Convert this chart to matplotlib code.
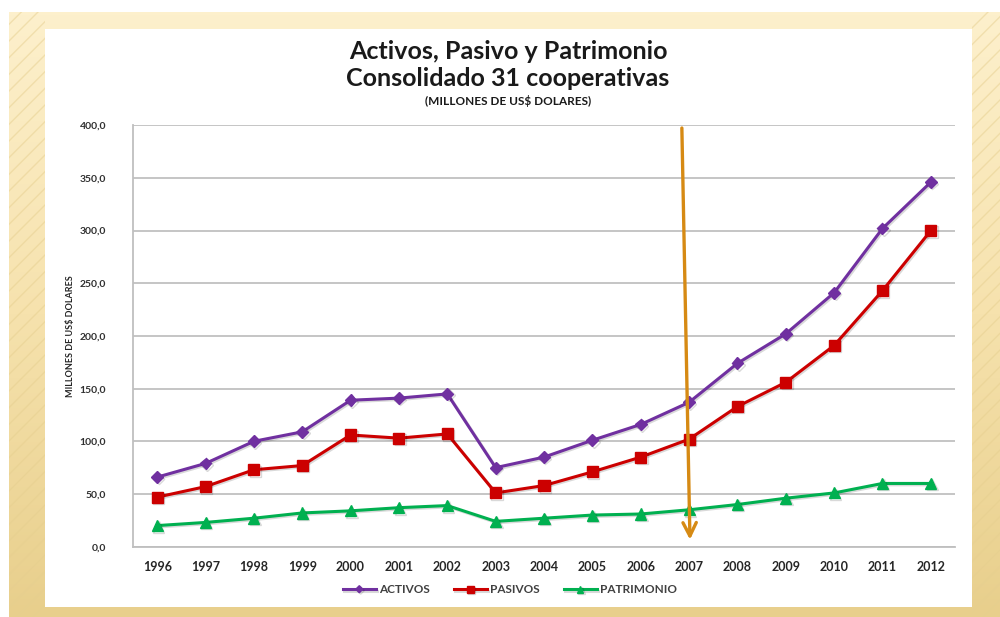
import numpy as np
import matplotlib.pyplot as plt
from matplotlib.patches import Rectangle
from matplotlib.colors import LinearSegmentedColormap
import matplotlib.patheffects as pe

plt.rcParams['font.family'] = ['Lato', 'DejaVu Sans']

# datos
anios = ['1996', '1997', '1998', '1999', '2000', '2001', '2002', '2003', '2004',
         '2005', '2006', '2007', '2008', '2009', '2010', '2011', '2012']
activos = [66, 79, 100, 109, 139, 141, 145, 75, 85, 101, 116, 137, 174, 202, 241, 302, 346]
pasivos = [47, 57, 73, 77, 106, 103, 107, 51, 58, 71, 85, 102, 133, 156, 191, 243, 300]
patrimonio = [20, 23, 27, 32, 34, 37, 39, 24, 27, 30, 31, 35, 40, 46, 51, 60, 60]
yticks = [0, 50, 100, 150, 200, 250, 300, 350, 400]

fig = plt.figure(figsize=(10, 6.17), dpi=100)

# fondo tipo diapositiva
bg = fig.add_axes([0, 0, 1, 1], zorder=-5)
bg.set_xlim(0, 1000)
bg.set_ylim(617, 0)
bg.axis('off')
cmap = LinearSegmentedColormap.from_list('beige', ['#fdf0cc', '#f6e2ad', '#e8cf8c'])
grad = np.linspace(0, 1, 200).reshape(-1, 1)
bg.imshow(grad, cmap=cmap, extent=[9, 1000, 617, 12], aspect='auto', zorder=0)
for x0, w in [(9, 36), (972, 28)]:
    bg.add_patch(Rectangle((x0, 12), w, 605, facecolor='none', edgecolor='#e6cf8f',
                           hatch='//', linewidth=0, alpha=0.5, zorder=1))
bg.add_patch(Rectangle((45, 29), 927, 578, facecolor='white', edgecolor='none', zorder=2))

ax = fig.add_axes([0.133, 0.114, 0.822, 0.683])
x = np.arange(len(anios))
sombra = [pe.SimpleLineShadow(offset=(1, -1), alpha=0.15), pe.Normal()]
ax.plot(x, activos, color='#7030a0', lw=2.2, marker='D', ms=6, label='ACTIVOS',
        path_effects=sombra, zorder=3)
ax.plot(x, pasivos, color='#cc0000', lw=2.2, marker='s', ms=8, label='PASIVOS',
        path_effects=sombra, zorder=3)
ax.plot(x, patrimonio, color='#00b050', lw=2.2, marker='^', ms=8, label='PATRIMONIO',
        path_effects=sombra, zorder=3)

# flecha 2007
ax.annotate('', xy=(11.02, 4), xytext=(10.85, 400),
            arrowprops=dict(arrowstyle='->', color='#d68a14', lw=2.4, mutation_scale=24),
            zorder=4, annotation_clip=False)

ax.set_xlim(-0.5, 16.5)
ax.set_ylim(0, 400)
ax.set_yticks(yticks)
ax.yaxis.set_major_formatter(plt.FuncFormatter(lambda v, p: ('%.1f' % v).replace('.', ',')))
ax.set_xticks(x)
ax.set_xticklabels(anios)
ax.grid(axis='y', color='#c0c0c0', linewidth=1.3)
ax.set_axisbelow(True)
for s in ['top', 'right']:
    ax.spines[s].set_visible(False)
for s in ['left', 'bottom']:
    ax.spines[s].set_color('#bfbfbf')
    ax.spines[s].set_linewidth(1.3)
ax.tick_params(length=0)
for lbl in ax.get_xticklabels():
    lbl.set_fontsize(9)
    lbl.set_fontweight('bold')
    lbl.set_color('#262626')
for lbl in ax.get_yticklabels():
    lbl.set_fontsize(7.5)
    lbl.set_fontweight('bold')
    lbl.set_color('#303030')
ax.tick_params(axis='x', pad=10)
ax.tick_params(axis='y', pad=19.5)
ax.set_ylabel('MILLONES DE US$ DOLARES', fontsize=6.5, fontweight='bold', color='#262626',
              labelpad=3)

fig.text(0.508, 0.916, 'Activos, Pasivo y Patrimonio', ha='center', va='center',
         fontsize=18, fontweight='bold', color='#1a1a1a')
fig.text(0.508, 0.873, 'Consolidado 31 cooperativas', ha='center', va='center',
         fontsize=18, fontweight='bold', color='#1a1a1a')
fig.text(0.508, 0.836, '(MILLONES DE US$ DOLARES)', ha='center', va='center',
         fontsize=8.5, fontweight='bold', color='#1a1a1a')

leg = fig.legend(loc='center', bbox_to_anchor=(0.51, 0.044), ncol=3, frameon=False,
                 fontsize=8.5, handlelength=2.8, columnspacing=2.0, handletextpad=0.3,
                 markerscale=0.6)
for t in leg.get_texts():
    t.set_fontweight('bold')
    t.set_color('#404040')

fig.savefig('out.png', dpi=100)
